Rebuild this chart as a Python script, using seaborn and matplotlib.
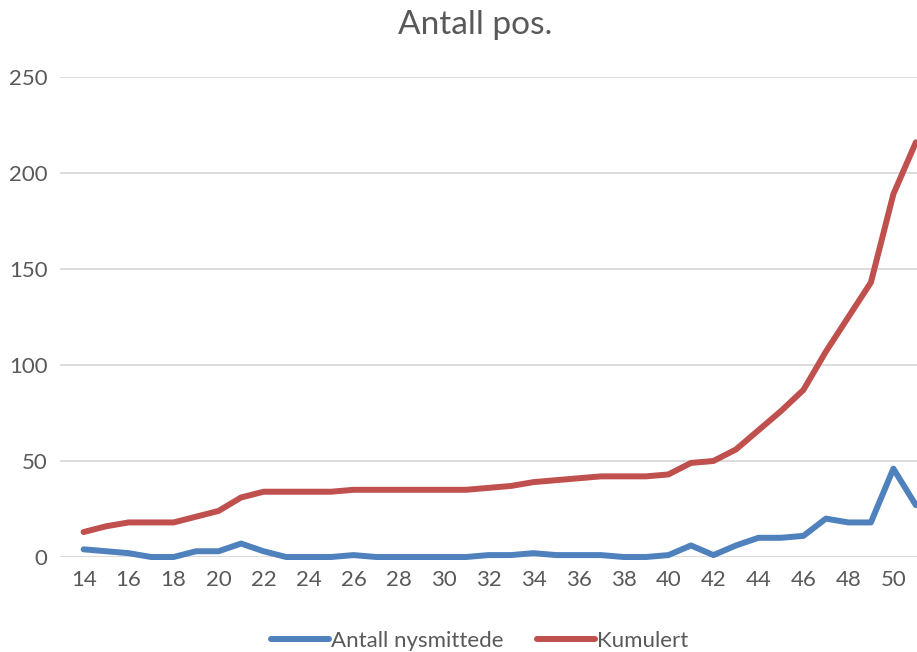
import pandas as pd
import matplotlib.pyplot as plt
import seaborn as sns

# Uker og antall positive
uker = list(range(14, 52))
nysmittede = [4, 3, 2, 0, 0, 3, 3, 7, 3, 0, 0, 0, 1, 0, 0, 0, 0, 0, 1, 1,
              2, 1, 1, 1, 0, 0, 1, 6, 1, 6, 10, 10, 11, 20, 18, 18, 46, 27]
kumulert = [13, 16, 18, 18, 18, 21, 24, 31, 34, 34, 34, 34, 35, 35, 35, 35, 35, 35, 36, 37,
            39, 40, 41, 42, 42, 42, 43, 49, 50, 56, 66, 76, 87, 107, 125, 143, 189, 216]
serier = ['Antall nysmittede', 'Kumulert']
farger = ['#4f81bd', '#c0504d']

df = pd.DataFrame({'uke': uker, serier[0]: nysmittede, serier[1]: kumulert})
df_long = df.melt(id_vars='uke', var_name='serie', value_name='antall')

sns.set_theme(style='white')
plt.rcParams['font.family'] = ['Lato', 'DejaVu Sans']
grå = '#595959'

fig = plt.figure(figsize=(9.17, 6.52), dpi=100)
ax = fig.add_axes([60 / 917, 1 - 557 / 652, 1 - 60 / 917, 480 / 652])

sns.lineplot(data=df_long, x='uke', y='antall', hue='serie', hue_order=serier,
             palette=farger, linewidth=4.3, ax=ax, legend=True)
for line in ax.lines:
    line.set_clip_on(False)
    line.set_solid_capstyle('round')
    line.set_solid_joinstyle('round')

ax.set_xlim(12.95, 51.05)
ax.set_ylim(0, 250)
ax.set_yticks(range(0, 251, 50))
ax.set_xticks(range(14, 52, 2))
ax.grid(axis='y', color='#d9d9d9', linewidth=1.3)
ax.set_axisbelow(True)
for s in ax.spines.values():
    s.set_visible(False)
ax.tick_params(axis='both', colors=grå, labelsize=16, length=0)
ax.tick_params(axis='y', pad=9)
ax.tick_params(axis='x', pad=9)
ax.set_xlabel('')
ax.set_ylabel('')

fig.text(0.518, 1 - 25 / 652, 'Antall pos.', ha='center', va='center', fontsize=24, color=grå)

leg = ax.legend(loc='center', bbox_to_anchor=(0.49, -0.175), ncol=2, frameon=False,
                fontsize=16, handlelength=2.6, columnspacing=1.5, handletextpad=0.1)
for t in leg.get_texts():
    t.set_color(grå)
for h in leg.get_lines():
    h.set_linewidth(4.3)

fig.savefig('out.png', dpi=100)
